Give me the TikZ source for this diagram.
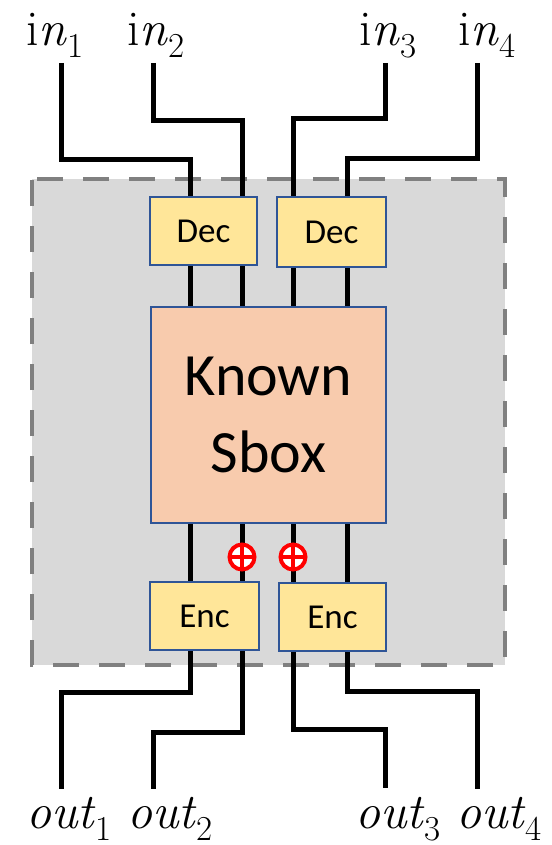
\documentclass[tikz,border=0pt]{standalone}
\usepackage{fontspec}
\newfontfamily\boxfont{Carlito}
\definecolor{boxblue}{HTML}{2F5597}
\definecolor{decfill}{HTML}{FFE699}
\definecolor{sboxfill}{HTML}{F8CBAD}
\definecolor{bggray}{HTML}{D9D9D9}
\definecolor{dashgray}{HTML}{808080}
\definecolor{xorred}{HTML}{FF0000}
\newcommand{\wlab}[2]{#1\/\raisebox{-12pt}{\fontsize{35}{40}\selectfont #2}}
\begin{document}
\begin{tikzpicture}[x=1pt,y=-1pt,
  wire/.style={line width=5pt},
  blk/.style={draw=boxblue, line width=2pt, inner sep=0pt, fill=decfill,
    font=\boxfont\fontsize{35}{40}\selectfont},
  sboxblk/.style={draw=boxblue, line width=2pt, inner sep=0pt, fill=sboxfill,
    align=center, font=\boxfont\fontsize{60}{77}\selectfont},
  xor/.style={circle, draw=xorred, fill=white, line width=4pt, minimum size=25pt,
    inner sep=0pt, outer sep=0pt},
  lbl/.style={inner sep=0pt, anchor=base west, font=\fontsize{50}{60}\selectfont}]
\useasboundingbox (0,0) rectangle (551,845);

% background region
\fill[bggray] (32,179) rectangle (505,665);
\draw[dashgray, line width=4pt, dash pattern=on 26pt off 20pt, dash phase=41pt]
  (32,179) -- (505,179) -- (505,665) -- (32,665) -- cycle;

% blocks
\node[blk, minimum width=107pt, minimum height=68pt] (dec1) at (203.5,231) {Dec};
\node[blk, minimum width=109pt, minimum height=70pt] (dec2) at (331.5,232) {Dec};
\node[sboxblk, minimum width=235pt, minimum height=216pt] (sbox) at (268.5,415) {Known\\Sbox};
\node[blk, minimum width=109pt, minimum height=68pt] (enc1) at (204.5,616) {Enc};
\node[blk, minimum width=107pt, minimum height=68pt] (enc2) at (332.5,617) {Enc};

% labels
\node[lbl] (in1) at (26,46) {\wlab{i\textit{n}}{1}};
\node[lbl] (in2) at (127,46) {\wlab{i\textit{n}}{2}};
\node[lbl] (in3) at (359,46) {\wlab{i\textit{n}}{3}};
\node[lbl] (in4) at (458,46) {\wlab{i\textit{n}}{4}};
\node[lbl] (out1) at (26,828) {\wlab{\textit{out}}{1}};
\node[lbl] (out2) at (127,828) {\wlab{\textit{out}}{2}};
\node[lbl] (out3) at (355,828) {\wlab{\textit{out}}{3}};
\node[lbl] (out4) at (456,828) {\wlab{\textit{out}}{4}};

% wire coordinates
\coordinate (w1) at (61,63);
\coordinate (w2) at (153,63);
\coordinate (w3) at (385,63);
\coordinate (w4) at (477,63);
\coordinate (h1) at (190,160);
\coordinate (h2) at (242,121);
\coordinate (h3) at (293,119);
\coordinate (h4) at (347,159);
\coordinate (g1) at (190,692);
\coordinate (g2) at (242,732);
\coordinate (g3) at (293,729);
\coordinate (g4) at (347,691);
\coordinate (v1) at (61,789);
\coordinate (v2) at (153,789);
\coordinate (v3) at (385,788);
\coordinate (v4) at (477,789);

% input wires
\draw[wire] (w1) |- (h1) -- (h1 |- dec1.north);
\draw[wire] (w2) |- (h2) -- (h2 |- dec1.north);
\draw[wire] (w3) |- (h3) -- (h3 |- dec2.north);
\draw[wire] (w4) |- (h4) -- (h4 |- dec2.north);

% dec to sbox
\draw[wire] (h1 |- dec1.south) -- (h1 |- sbox.north);
\draw[wire] (h2 |- dec1.south) -- (h2 |- sbox.north);
\draw[wire] (h3 |- dec2.south) -- (h3 |- sbox.north);
\draw[wire] (h4 |- dec2.south) -- (h4 |- sbox.north);

% sbox to enc
\draw[wire] (h1 |- sbox.south) -- (h1 |- enc1.north);
\draw[wire] (h2 |- sbox.south) -- (h2 |- enc1.north);
\draw[wire] (h3 |- sbox.south) -- (h3 |- enc2.north);
\draw[wire] (h4 |- sbox.south) -- (h4 |- enc2.north);

% xor marks
\node[xor] (x1) at (242,557) {};
\node[xor] (x2) at (293,557) {};
\draw[xorred, line width=4pt] (x1.north) -- (x1.south) (x1.west) -- (x1.east);
\draw[xorred, line width=4pt] (x2.north) -- (x2.south) (x2.west) -- (x2.east);

% output wires
\draw[wire] (g1 |- enc1.south) -- (g1) -| (v1);
\draw[wire] (g2 |- enc1.south) -- (g2) -| (v2);
\draw[wire] (g3 |- enc2.south) -- (g3) -| (v3);
\draw[wire] (g4 |- enc2.south) -- (g4) -| (v4);
\end{tikzpicture}
\end{document}
